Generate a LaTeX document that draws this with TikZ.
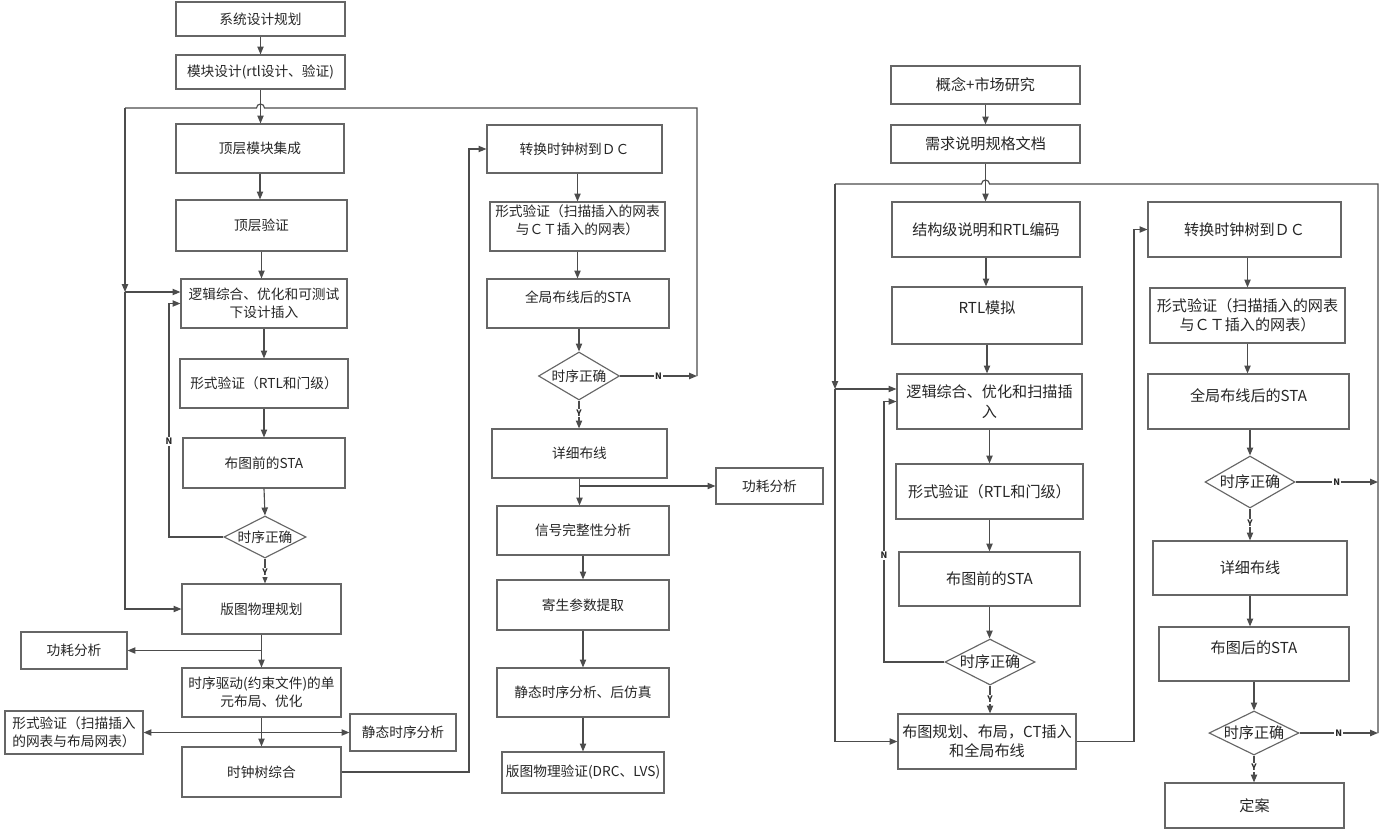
\documentclass[tikz,border=0pt]{standalone}
\usepackage{fontspec}
\setmainfont{Noto Sans CJK SC}
\usetikzlibrary{arrows.meta,shapes.geometric}
\newcommand{\chkok}{\makebox[0pt]{时序正确}}

\begin{document}
\begin{tikzpicture}[
      x=0.02cm, y=-0.02cm,
      every node/.style={font=\fontsize{7.8}{10}\selectfont, text=black!85},
      box/.style={draw=black!60, line width=0.65pt, fill=white, align=center, inner sep=1pt},
      rbox/.style={box, font=\fontsize{8.6}{11}\selectfont},
      lifted/.style={text depth=#1*0.02cm},
      check/.style={diamond, draw=black!60, line width=0.65pt, fill=white, inner sep=0pt},
      rcheck/.style={check, font=\fontsize{8.6}{11}\selectfont},
      sz/.style 2 args={minimum width=#1*0.02cm, minimum height=#2*0.02cm},
      wire/.style={draw=black!70, line width=0.65pt},
      arr/.style={wire, -{Triangle[length=4.5pt,width=3.6pt]}},
      yn/.style={font=\fontsize{5}{6}\selectfont\bfseries, fill=white, inner sep=0.6pt}
    ]
    \useasboundingbox (0,0) rectangle (1391,832);

    % left flow
    \node[box, sz={169}{34}] (aPlan) at (260.5,19) {系统设计规划};
    \node[box, sz={169}{34}] (aMod) at (260.5,72) {模块设计(rtl设计、验证)};
    \node[box, sz={168}{49}] (aTop) at (260,148.5) {顶层模块集成};
    \node[box, sz={171}{51}] (aTopV) at (261.5,225.5) {顶层验证};
    \node[box, sz={166}{49}] (aSyn) at (264,303.5) {逻辑综合、优化和可测试\\下设计插入};
    \node[box, sz={168}{49}] (aFv) at (264,383.5) {形式验证（RTL和门级）};
    \node[box, sz={162}{50}] (aPre) at (264,463) {布图前的STA};
    \node[check, sz={82}{42}] (aChk) at (265,537) {\chkok};
    \node[box, sz={159}{50}] (aFp) at (261.5,609) {版图物理规划};
    \node[box, sz={106}{37}] (aPow) at (74,650.5) {功耗分析};
    \node[box, sz={159}{49}] (aPlace) at (261.5,692.5) {时序驱动(约束文件)的单\\元布局、优化};
    \node[box, sz={138}{43}, align=left] (aFv2) at (74,732.5) {形式验证（扫描插入\\的网表与布局网表）};
    \node[box, sz={106}{37}] (aSta) at (403,732.5) {静态时序分析};
    \node[box, sz={159}{50}] (aCts) at (261.5,772) {时钟树综合};

    % middle flow
    \node[box, sz={175}{48}] (bDc) at (574.5,149) {转换时钟树到ＤＣ};
    \node[box, sz={175}{49}, lifted=14] (bFv) at (577.5,226.5) {形式验证（扫描插入的网表\\与ＣＴ插入的网表）};
    \node[box, sz={182}{49}, lifted=14] (bSta) at (578,303.5) {全局布线后的STA};
    \node[check, sz={81}{48}] (bChk) at (579,376) {\chkok};
    \node[box, sz={175}{49}] (bRoute) at (579.5,453.5) {详细布线};
    \node[box, sz={107}{36}] (bPow) at (769.5,486) {功耗分析};
    \node[box, sz={172}{49}] (bSi) at (583,530.5) {信号完整性分析};
    \node[box, sz={172}{50}] (bRc) at (583,605) {寄生参数提取};
    \node[box, sz={172}{49}] (bPost) at (583,692.5) {静态时序分析、后仿真};
    \node[box, sz={162}{41}] (bDrc) at (583,772.5) {版图物理验证(DRC、LVS)};

    % right flow
    \node[rbox, sz={189}{38}] (cMkt) at (985.5,85) {概念+市场研究};
    \node[rbox, sz={189}{38}] (cSpec) at (985.5,144) {需求说明规格文档};
    \node[rbox, sz={188}{55}] (cRtl) at (986,229.5) {结构级说明和RTL编码};
    \node[rbox, sz={190}{57}, lifted=16] (cSim) at (987,315.5) {RTL模拟};
    \node[rbox, sz={185}{55}] (cSyn) at (989.5,401.5) {逻辑综合、优化和扫描插\\入};
    \node[rbox, sz={187}{55}] (cFv) at (989.5,491.5) {形式验证（RTL和门级）};
    \node[rbox, sz={181}{54}] (cPre) at (989.5,579) {布图前的STA};
    \node[rcheck, sz={90}{46}] (cChk) at (990,662) {\chkok};
    \node[rbox, sz={178}{55}] (cFp) at (987,741.5) {布图规划、布局，CT插入\\和全局布线};
    \node[rbox, sz={193}{55}] (dDc) at (1244.5,229.5) {转换时钟树到ＤＣ};
    \node[rbox, sz={195}{55}] (dFv) at (1247.5,315.5) {形式验证（扫描插入的网表\\与ＣＴ插入的网表）};
    \node[rbox, sz={201}{55}, lifted=12] (dSta) at (1248.5,401.5) {全局布线后的STA};
    \node[rcheck, sz={90}{52}] (dChk1) at (1250,482) {\chkok};
    \node[rbox, sz={194}{54}] (dRoute) at (1250,568) {详细布线};
    \node[rbox, sz={190}{54}, lifted=14] (dPost) at (1254,654) {布图后的STA};
    \node[rcheck, sz={90}{44}] (dChk2) at (1254,733) {\chkok};
    \node[rbox, sz={179}{45}] (dTape) at (1254.5,805.5) {定案};

    \coordinate (railA) at (125,108);
    \coordinate (railB) at (697,108);
    \coordinate (railC) at (469,149);
    \coordinate (aJoin) at (125,292);
    \coordinate (aBack) at (169,537);
    \coordinate (hopA) at (aMod.south |- railA);
    \coordinate (railD) at (835,184);
    \coordinate (railE) at (1378,184);
    \coordinate (railF) at (1134,229.5);
    \coordinate (cJoin) at (835,389);
    \coordinate (cBack) at (884,662);
    \coordinate (hopC) at (cSpec.south |- railD);

    % left connectors
    \draw[arr] (aPlan.south) -- (aMod.north);
    \draw[arr] (aMod.south) -- (aMod.south |- aTop.north);
    \draw[arr] (aTop.south) -- (aTop.south |- aTopV.north);
    \draw[arr] (aTopV.south) -- (aTopV.south |- aSyn.north);
    \draw[arr] (aSyn.south) -- (aSyn.south |- aFv.north);
    \draw[arr] (aFv.south) -- (aFv.south |- aPre.north);
    \draw[arr] (aPre.south) -- (aChk.north);
    \draw[arr] (aChk.south) -- node[yn, pos=0.55]{Y} (aChk.south |- aFp.north);
    \draw[arr] (aChk.west) -- (aBack) -- node[yn, pos=0.41]{N} (aBack |- aSyn.west) -- (aSyn.west);
    \draw[wire] (railB |- bChk.east) -- (railB) -- ([xshift=0.08cm]hopA)
      arc[start angle=0, end angle=180, radius=0.08cm] -- (railA);
    \draw[arr] (railA) -- (aJoin);
    \draw[arr] (aJoin) -- (aJoin -| aSyn.west);
    \draw[arr] (aJoin) |- (aFp.west);
    \draw[arr] (aFp.south) -- (aFp.south |- aPlace.north);
    \draw[arr] (aFp.south |- aPow.east) -- (aPow.east);
    \draw[arr] (aPlace.south) -- (aPlace.south |- aCts.north);
    \draw[arr] (aPlace.south |- aFv2.east) -- (aFv2.east);
    \draw[arr] (aPlace.south |- aSta.west) -- (aSta.west);
    \draw[arr] (aCts.east) -| (railC) -- (bDc.west);

    % middle connectors
    \draw[arr] (bFv.north |- bDc.south) -- (bFv.north);
    \draw[arr] (bFv.south) -- (bFv.south |- bSta.north);
    \draw[arr] (bChk.north |- bSta.south) -- (bChk.north);
    \draw[arr] (bChk.south) -- node[yn, pos=0.45]{Y} (bChk.south |- bRoute.north);
    \draw[arr] (bChk.east) -- node[yn, pos=0.5]{N} (railB |- bChk.east);
    \draw[arr] (bRoute.south) -- (bRoute.south |- bSi.north);
    \draw[arr] (bRoute.south |- bPow.west) -- (bPow.west);
    \draw[arr] (bSi.south) -- (bRc.north);
    \draw[arr] (bRc.south) -- (bPost.north);
    \draw[arr] (bPost.south) -- (bDrc.north);

    % right connectors
    \draw[arr] (cMkt.south) -- (cSpec.north);
    \draw[arr] (cSpec.south) -- (cSpec.south |- cRtl.north);
    \draw[arr] (cRtl.south) -- (cRtl.south |- cSim.north);
    \draw[arr] (cSim.south) -- (cSim.south |- cSyn.north);
    \draw[arr] (cSyn.south) -- (cSyn.south |- cFv.north);
    \draw[arr] (cFv.south) -- (cFv.south |- cPre.north);
    \draw[arr] (cPre.south) -- (cPre.south |- cChk.north);
    \draw[arr] (cChk.south) -- node[yn, pos=0.5]{Y} (cChk.south |- cFp.north);
    \draw[arr] (cChk.west) -- (cBack) -- node[yn, pos=0.41]{N} (cBack |- cSyn.west) -- (cSyn.west);
    \draw[wire] (railE |- dChk2.east) -- (railE) -- ([xshift=0.08cm]hopC)
      arc[start angle=0, end angle=180, radius=0.08cm] -- (railD);
    \draw[arr] (railD) -- (cJoin);
    \draw[arr] (cJoin) -- (cJoin -| cSyn.west);
    \draw[arr] (cJoin) |- (cFp.west);
    \draw[arr] (cFp.east) -| (railF) -- (dDc.west);
    \draw[arr] (dFv.north |- dDc.south) -- (dFv.north);
    \draw[arr] (dFv.south) -- (dFv.south |- dSta.north);
    \draw[arr] (dChk1.north |- dSta.south) -- (dChk1.north);
    \draw[arr] (dChk1.south) -- node[yn, pos=0.45]{Y} (dChk1.south |- dRoute.north);
    \draw[arr] (dChk1.east) -- node[yn, pos=0.5]{N} (railE |- dChk1.east);
    \draw[arr] (dRoute.south) -- (dRoute.south |- dPost.north);
    \draw[arr] (dPost.south) -- (dChk2.north);
    \draw[arr] (dChk2.south) -- node[yn, pos=0.45]{Y} (dChk2.south |- dTape.north);
    \draw[arr] (dChk2.east) -- node[yn, pos=0.5]{N} (railE |- dChk2.east);
  \end{tikzpicture}
\end{document}
